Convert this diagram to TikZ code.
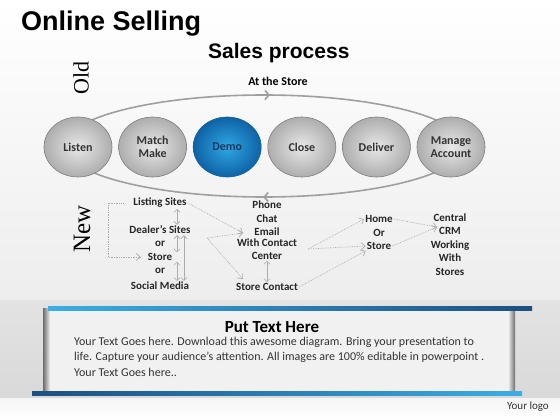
\documentclass[tikz,border=0pt]{standalone}
\usepackage{fontspec}
\setmainfont{Carlito}
\newfontfamily\headfont{Liberation Sans}
\newfontfamily\erafont{Liberation Serif}
\usetikzlibrary{shapes.geometric, arrows.meta, positioning, decorations.markings}
\definecolor{ballrim}{HTML}{7E7E7E}
\definecolor{demoin}{HTML}{2FA8E6}
\definecolor{demoout}{HTML}{0F62A4}
\definecolor{demotext}{HTML}{1B3A5C}
\definecolor{barlight}{HTML}{3AAEE6}
\definecolor{bardark}{HTML}{1C4F80}
\definecolor{panelbg}{HTML}{F1F1F1}

\begin{document}
\begin{tikzpicture}[
  x=1pt, y=-1pt,
  node distance=6pt,
  stage/.style={ellipse, draw=ballrim, line width=0.6pt, inner sep=0pt, minimum width=68pt, minimum height=60pt, align=center, text=black!80, font=\fontsize{12}{13.5}\selectfont\bfseries, inner color=gray!18, outer color=gray!64},
  hot/.style={inner color=demoin, outer color=demoout, draw=demoout, text=demotext},
  cycle/.style={draw=gray!75, line width=1.6pt, postaction={decorate}, decoration={markings,
    mark=at position 0.243 with {\arrowreversed{Straight Barb[length=4pt,width=9pt]}},
    mark=at position 0.749 with {\arrowreversed{Straight Barb[length=4pt,width=9pt]}}}},
  flowtext/.style={font=\fontsize{11}{13.5}\selectfont\bfseries, align=center, inner sep=1pt, text=black!85},
  flowline/.style={draw=gray!65, densely dotted, line width=0.7pt, -{Straight Barb[length=4pt,width=7pt]}},
  twoway/.style={draw=gray!65, line width=0.6pt, {Straight Barb[length=3pt,width=6pt]}-{Straight Barb[length=3pt,width=6pt]}},
]
\useasboundingbox (0,0) rectangle (560,420);
% background
\fill[white] (0,0) rectangle (560,420);
\shade[top color=white, bottom color=gray!14] (0,0) rectangle (560,300);
\shade[top color=gray!22, bottom color=gray!30] (0,300) rectangle (560,398);
\shade[top color=gray!8, bottom color=white] (0,398) rectangle (560,420);

% headings
\node[anchor=base west, inner sep=0pt, font=\headfont\fontsize{27}{30}\selectfont\bfseries] (title) at (21,31) {Online Selling};
\node[anchor=base west, inner sep=0pt, font=\headfont\fontsize{21}{24}\selectfont\bfseries] (subtitle) at (208,59) {Sales process};
\node[anchor=base, inner sep=0pt, font=\fontsize{12}{14}\selectfont\bfseries] (atstore) at (278,85) {At the Store};
\node[rotate=90, font=\erafont\fontsize{22}{24}\selectfont] (old) at (81,78) {Old};
\node[rotate=90, font=\erafont\fontsize{25}{27}\selectfont] (new) at (82,229) {New};

% sales cycle
\draw[cycle] (264,146) ellipse [x radius=200pt, y radius=51pt];
\node[stage] (listen) at (78,147) {Listen};
\node[stage, right=of listen] (match) {Match\\Make};
\node[stage, hot, right=of match] (demo) {Demo};
\node[stage, right=of demo] (close) {Close};
\node[stage, right=of close] (deliver) {Deliver};
\node[stage, right=of deliver] (manage) {Manage\\Account};

% new channels
\node[flowtext] (listing) at (160,203) {Listing Sites};
\node[flowtext] (dealer) at (160,230) {Dealer’s Sites};
\node[flowtext] (orA) at (160,243.5) {or};
\node[flowtext] (store) at (160,257) {Store};
\node[flowtext] (orB) at (160,271) {or};
\node[flowtext] (social) at (160,286) {Social Media};
\node[flowtext] (pce) at (267,218.5) {Phone\\Chat\\Email};
\node[flowtext] (wcc) at (267,249) {With Contact\\Center};
\node[flowtext] (scontact) at (267,287) {Store Contact};
\node[flowtext] (home) at (379,219) {Home};
\node[flowtext] (orC) at (379,233) {Or};
\node[flowtext] (shop) at (379,246) {Store};
\node[flowtext] (crm) at (450,244.5) {Central\\CRM\\Working\\With\\Stores};

\coordinate (fromdealer) at (207,238);
\coordinate (toemail) at (243,233);
\coordinate (tostorecontact) at (243,279);
\coordinate (fromcenter) at (308,249);
\coordinate (tocrm) at (437,227);

\draw[flowline] ([xshift=-9pt]listing.west) -- ++(-15,0) |- ([xshift=-6pt]store.west);
\draw[flowline] (listing.east) -- (toemail);
\draw[flowline] (fromdealer) -- (toemail);
\draw[flowline] (fromdealer) -- (tostorecontact);
\draw[flowline] (fromcenter) -- (home.west);
\draw[flowline] (fromcenter) -- (shop.west);
\draw[flowline] (scontact.east) -- (shop.south west);
\draw[flowline] (home.east) -- (tocrm);
\draw[flowline] (shop.east) -- (tocrm);

\draw[twoway] ([xshift=17pt]listing.south) -- ([xshift=17pt]dealer.north);
\draw[twoway] ([xshift=17pt]dealer.south) -- ([xshift=17pt]store.north);
\draw[twoway] ([xshift=17pt]store.south) -- ([xshift=17pt]social.north);
\draw[twoway] ([xshift=24pt]dealer.south) -- ([xshift=24pt]social.north);
\draw[twoway] (wcc.south) -- (scontact.north);

% text panel
\fill[panelbg] (45,308) rectangle (515,393);
\shade[left color=gray!85!black, right color=panelbg] (43,308) rectangle (50,393);
\shade[left color=panelbg, right color=gray!85!black] (508,308) rectangle (515,393);
\shade[left color=barlight, right color=bardark] (48,306) rectangle (532,310);
\shade[left color=bardark, right color=barlight] (32,391) rectangle (522,395);
\node[font=\fontsize{17}{20}\selectfont\bfseries] (puthead) at (272,327) {Put Text Here};
\node[anchor=north west, inner sep=0pt, align=left, text=black!80, font=\fontsize{12}{15.5}\selectfont] (putbody) at (74,336.5)
  {Your Text Goes here. Download this awesome diagram. Bring your presentation to\\
   life. Capture your audience’s attention. All images are 100\% editable in powerpoint .\\
   Your Text Goes here..};
\node[anchor=base east, inner sep=0pt, text=black!80, font=\fontsize{11}{13}\selectfont] (logo) at (549,409) {Your logo};
\end{tikzpicture}
\end{document}
